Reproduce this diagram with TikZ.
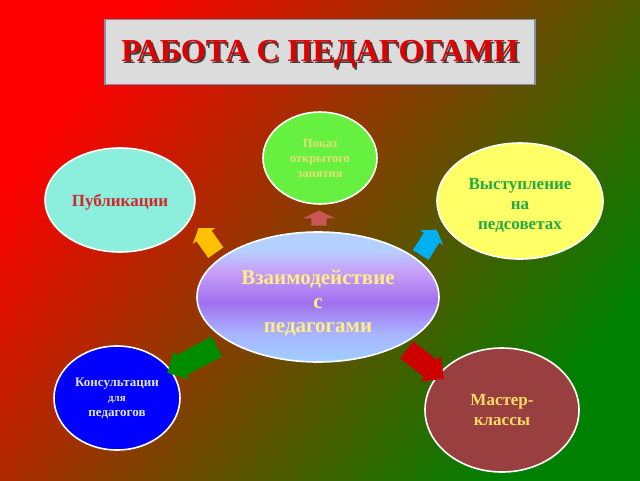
\documentclass[tikz,border=0pt]{standalone}
\usepackage{fontspec}
\setmainfont{Liberation Serif}
\usetikzlibrary{shapes.geometric,shapes.arrows}
\definecolor{bgTL}{HTML}{FF0000}
\definecolor{bgMid}{HTML}{7C4200}
\definecolor{bgBR}{HTML}{008000}
\definecolor{titlefill}{HTML}{DCDCDC}
\definecolor{titleborder}{HTML}{7F8FAF}
\definecolor{titlered}{HTML}{E00000}
\definecolor{showfill}{HTML}{66F040}
\definecolor{showtext}{HTML}{E6E070}
\definecolor{pubfill}{HTML}{8CEEDC}
\definecolor{pubtext}{HTML}{D02828}
\definecolor{talkfill}{HTML}{FFFF66}
\definecolor{talktext}{HTML}{22AA44}
\definecolor{consfill}{HTML}{0000FF}
\definecolor{constext}{HTML}{E4E4E4}
\definecolor{masterfill}{HTML}{993F3F}
\definecolor{mastertext}{HTML}{FFDD66}
\definecolor{centertext}{HTML}{FFEE88}
\definecolor{shTop}{HTML}{B4D0FF}
\definecolor{shA}{HTML}{C8A0F8}
\definecolor{shV}{HTML}{A070F0}
\definecolor{shB}{HTML}{A8B4FF}
\definecolor{shBot}{HTML}{A0D0FF}
\definecolor{arrUp}{HTML}{C85858}
\definecolor{arrYel}{HTML}{FFC000}
\definecolor{arrCy}{HTML}{00B0F0}
\definecolor{arrGr}{HTML}{008C00}
\definecolor{arrRed}{HTML}{CC0000}
\pgfdeclareverticalshading{centershade}{100bp}{color(0bp)=(shBot); color(25bp)=(shBot); color(36bp)=(shB); color(48bp)=(shV); color(60bp)=(shA); color(68bp)=(shTop); color(75bp)=(shTop); color(100bp)=(shTop)}
\pgfdeclareverticalshading{bgshade}{100bp}{color(0bp)=(bgBR); color(25bp)=(bgBR); color(50bp)=(bgMid); color(75bp)=(bgTL); color(100bp)=(bgTL)}
\begin{document}
\begin{tikzpicture}[x=1pt,y=-1pt,
  bubble/.style={ellipse, draw=white, line width=1.6pt, inner sep=0pt, align=center, font=\bfseries},
  blockarrow/.style={single arrow, draw=none, inner xsep=0pt, single arrow head indent=0pt}]
\shade[shading=bgshade, shading angle=53] (0,0) rectangle (640,480);
\useasboundingbox (0,0) rectangle (640,480);
% title
\node[draw=titleborder, line width=1.5pt, fill=titlefill, minimum width=430pt, minimum height=65pt, inner sep=0pt] (title) at (320,52) {};
\node[text=black!75, font=\bfseries\fontsize{32}{36}\selectfont] (titleshadow) at (321.8,56.3) {РАБОТА С ПЕДАГОГАМИ};
\node[text=titlered, font=\bfseries\fontsize{32}{36}\selectfont] (titletext) at (320,54.5) {РАБОТА С ПЕДАГОГАМИ};
% bubbles
\node[bubble, fill=showfill, text=showtext, minimum width=114pt, minimum height=92pt, font=\bfseries\fontsize{12.5}{15}\selectfont] (show) at (320,158) {Показ\\открытого\\занятия};
\node[bubble, fill=pubfill, text=pubtext, minimum width=150pt, minimum height=104pt, font=\bfseries\fontsize{17}{20}\selectfont] (pub) at (120,200) {\rule{0pt}{16pt}Публикации};
\node[bubble, fill=talkfill, text=talktext, minimum width=166pt, minimum height=116pt, font=\bfseries\fontsize{17}{20}\selectfont] (talk) at (520,201) {\rule{0pt}{20pt}Выступление\\на\\педсоветах};
\node[bubble, shading=centershade, text=centertext, minimum width=242pt, minimum height=130pt, font=\bfseries\fontsize{21}{24}\selectfont] (center) at (318,297) {\rule{0pt}{27pt}Взаимодействие\\с\\педагогами};
\node[bubble, fill=consfill, text=constext, minimum width=126pt, minimum height=104pt, font=\bfseries\fontsize{13}{15}\selectfont] (cons) at (117,398) {Консультации\\{\fontsize{11}{13}\selectfont для}\\педагогов};
\node[bubble, fill=masterfill, text=mastertext, minimum width=154pt, minimum height=124pt, font=\bfseries\fontsize{17}{20}\selectfont] (master) at (502,410) {Мастер-\\классы};
% block arrows
\node[blockarrow, fill=arrUp, inner ysep=7.5pt, single arrow head extend=8.5pt, single arrow tip angle=130, minimum height=15pt, rotate=90] (aup) at (319,220) {};
\node[blockarrow, fill=arrYel, inner ysep=9pt, single arrow head extend=4.5pt, single arrow tip angle=110, minimum height=30pt, rotate=125] (ayel) at (209,243) {};
\node[blockarrow, fill=arrCy, inner ysep=9pt, single arrow head extend=4.5pt, single arrow tip angle=110, minimum height=30pt, rotate=58] (acy) at (427,245) {};
\node[blockarrow, fill=arrGr, inner ysep=11pt, single arrow head extend=5pt, minimum height=56pt, rotate=208] (agr) at (197,357) {};
\node[blockarrow, fill=arrRed, inner ysep=10.5pt, single arrow head extend=6pt, minimum height=47pt, rotate=-38] (ared) at (421,361) {};
\end{tikzpicture}
\end{document}
